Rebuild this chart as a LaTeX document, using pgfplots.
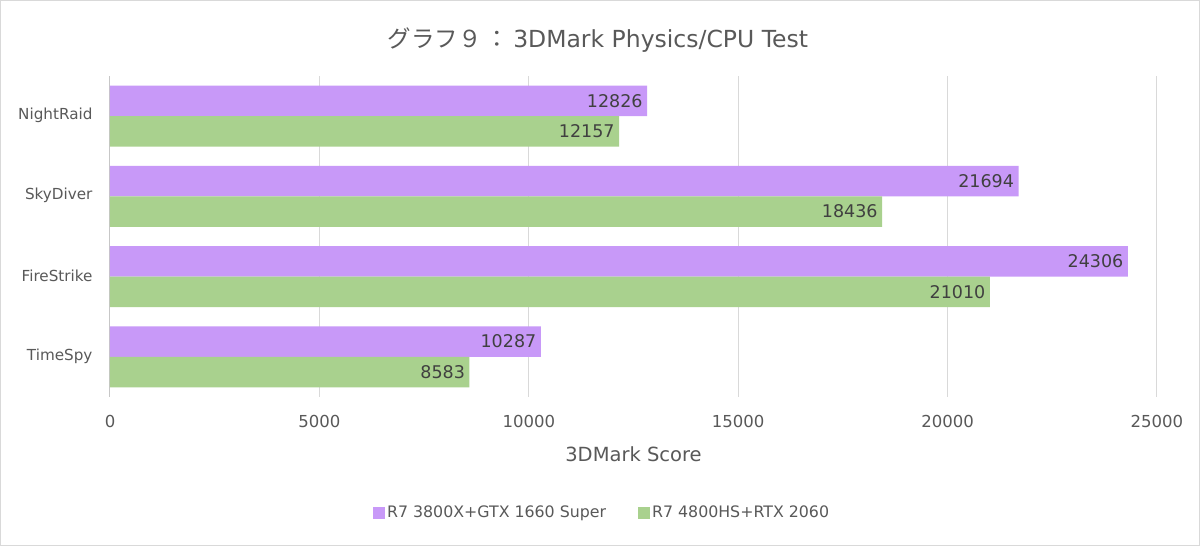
\documentclass[border=0pt]{standalone}
\usepackage{pgfplots}
\pgfplotsset{compat=1.18}
\usepackage{fontspec}
\setmainfont{DejaVu Sans}
\newfontfamily\cjk{Noto Sans CJK JP}
\definecolor{cpurple}{HTML}{C899F8}
\definecolor{cgreen}{HTML}{A9D18E}
\definecolor{txt}{HTML}{595959}
\definecolor{vtxt}{HTML}{404040}
\definecolor{gridc}{HTML}{D9D9D9}
\begin{document}
\begin{tikzpicture}
\useasboundingbox (0,0) rectangle (1200pt,546pt);
\fill[white] (0,0) rectangle (1200pt,546pt);
\draw[gridc] (0.5pt,0.5pt) rectangle (1199.5pt,545.5pt);
\node[txt, font=\fontsize{23.5}{28}\selectfont] at (598pt,506pt) {{\cjk グラフ９}\,{\cjk ：}\,3DMark Physics/CPU Test};
\begin{axis}[
  at={(110pt,149pt)}, anchor=south west,
  scale only axis, width=1047pt, height=321pt,
  xbar, bar width=0.38,
  xmin=0, xmax=25000, ymin=-0.5, ymax=3.5,
  ytick={0,1,2,3}, yticklabels={TimeSpy,FireStrike,SkyDiver,NightRaid},
  xtick={0,5000,10000,15000,20000,25000},
  scaled x ticks=false,
  /pgf/number format/1000 sep={},
  /pgf/number format/assume math mode=true,
  major tick length=0pt,
  xmajorgrids, grid style={gridc, line width=1pt},
  axis x line*=bottom, x axis line style={draw=none},
  axis y line*=left, y axis line style={draw=gridc!80!gray, line width=1pt},
  yticklabel style={txt, font=\fontsize{15.2}{18}\selectfont, xshift=-14pt, yshift=1pt},
  xticklabel style={txt, font=\fontsize{16.5}{19}\selectfont, yshift=-15pt},
  xlabel={3DMark Score},
  xlabel style={txt, font=\fontsize{19.5}{23}\selectfont, yshift=-12pt},
  nodes near coords, point meta=x,
  nodes near coords style={anchor=east, vtxt, font=\fontsize{17.5}{20}\selectfont, xshift=-1pt},
  legend style={at={(0.470,-0.361)}, anchor=center, legend columns=2, draw=none,
    font=\fontsize{15.8}{19}\selectfont, text=txt,
    /tikz/every even column/.append style={column sep=30pt}},
  legend image code/.code={\fill[#1,draw=none] (0pt,-6pt) rectangle (12pt,6pt);},
]
\addplot[fill=cpurple, draw=none, bar shift=0.19] coordinates {(10287,0) (24306,1) (21694,2) (12826,3)};
\addplot[fill=cgreen, draw=none, bar shift=-0.19] coordinates {(8583,0) (21010,1) (18436,2) (12157,3)};
\legend{R7 3800X+GTX 1660 Super, R7 4800HS+RTX 2060}
\end{axis}
\end{tikzpicture}
\end{document}
